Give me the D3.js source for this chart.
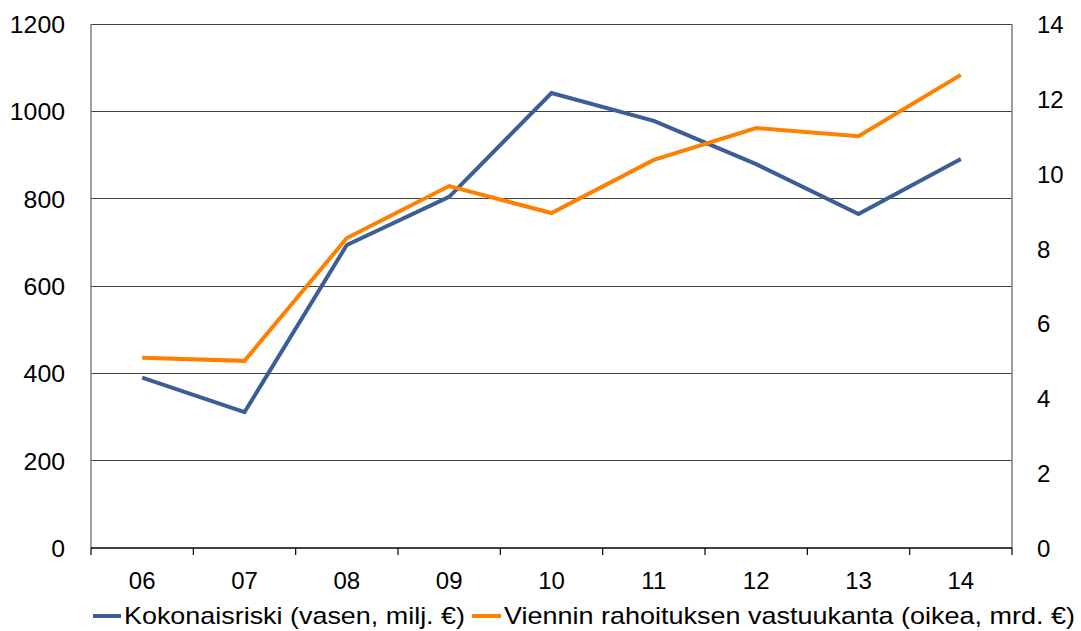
<!DOCTYPE html>
<html><head><meta charset="utf-8">
<script src="https://cdn.jsdelivr.net/npm/d3@7"></script>
<style>body{margin:0;background:#fff}svg{display:block;font-family:"Liberation Sans",Arial,sans-serif}</style>
</head><body><svg id="c" width="1081" height="631"></svg>
<script>
const categories = ["06","07","08","09","10","11","12","13","14"];
const riski = [390, 311, 694, 804, 1042, 978, 879, 765, 891];
const vastuukanta = [5.08, 5.0, 8.28, 9.67, 8.95, 10.37, 11.22, 11.0, 12.64];
const leftTicks = [0,200,400,600,800,1000,1200];
const rightTicks = [0,2,4,6,8,10,12,14];
const seriesNames = ["Kokonaisriski (vasen, milj. €)", "Viennin rahoituksen vastuukanta (oikea, mrd. €)"];
const colors = ["#3A5E95", "#FF8000"];

const svg = d3.select("#c");
const L = 91, R = 1012, T = 24, B = 548;
const FS = 24;
const x = d3.scaleBand().domain(categories).range([L, R]);
const yL = d3.scaleLinear().domain([0,1200]).range([B, T]);
const yR = d3.scaleLinear().domain([0,14]).range([B, T]);

// gridlines
svg.append("g").selectAll("line").data(leftTicks.filter(d=>d>0)).join("line")
  .attr("x1", L).attr("x2", R).attr("y1", d=>yL(d)).attr("y2", d=>yL(d))
  .attr("stroke", "#404040").attr("stroke-width", 1).attr("shape-rendering","crispEdges");
// left / right vertical axes
svg.append("line").attr("x1",L).attr("x2",L).attr("y1",T).attr("y2",B).attr("stroke","#808080").attr("stroke-width",1.5);
svg.append("line").attr("x1",R).attr("x2",R).attr("y1",T).attr("y2",B).attr("stroke","#808080").attr("stroke-width",1.5);

// left labels
svg.append("g").selectAll("text").data(leftTicks).join("text")
  .attr("x", 65).attr("y", d=>yL(d)+9).attr("text-anchor","end")
  .attr("font-size", FS).attr("fill","#000").attr("textLength", d=>String(d).length*13.8).attr("lengthAdjust","spacingAndGlyphs").text(d=>d);
// right labels
svg.append("g").selectAll("text").data(rightTicks).join("text")
  .attr("x", 1037).attr("y", d=>yR(d)+9).attr("text-anchor","start")
  .attr("font-size", FS).attr("fill","#000").text(d=>d);

// bottom axis
svg.append("line").attr("x1",L).attr("x2",R).attr("y1",B).attr("y2",B).attr("stroke","#000").attr("stroke-width",1.5);
const bounds = categories.map(c=>x(c)).concat([R]);
svg.append("g").selectAll("line").data(bounds).join("line")
  .attr("x1",d=>d).attr("x2",d=>d).attr("y1",B).attr("y2",B+7).attr("stroke","#000").attr("stroke-width",1.2);
svg.append("g").selectAll("text").data(categories).join("text")
  .attr("x", d=>x(d)+x.bandwidth()/2).attr("y", 589).attr("text-anchor","middle")
  .attr("font-size", FS).attr("fill","#000").text(d=>d);

// lines
const cx = d=>x(d)+x.bandwidth()/2;
const lineL = d3.line().x((d,i)=>cx(categories[i])).y(d=>yL(d));
const lineR = d3.line().x((d,i)=>cx(categories[i])).y(d=>yR(d));
svg.append("path").attr("d", lineL(riski)).attr("fill","none").attr("stroke",colors[0]).attr("stroke-width",4).attr("stroke-linejoin","miter");
svg.append("path").attr("d", lineR(vastuukanta)).attr("fill","none").attr("stroke",colors[1]).attr("stroke-width",4).attr("stroke-linejoin","miter");

// legend
const lg = svg.append("g");
lg.append("line").attr("x1",93).attr("x2",121).attr("y1",616).attr("y2",616).attr("stroke",colors[0]).attr("stroke-width",4);
lg.append("text").attr("x",124).attr("y",624).attr("font-size",FS).attr("fill","#000")
  .attr("textLength",341).attr("lengthAdjust","spacingAndGlyphs").text(seriesNames[0]);
lg.append("line").attr("x1",472).attr("x2",501).attr("y1",616).attr("y2",616).attr("stroke",colors[1]).attr("stroke-width",4);
lg.append("text").attr("x",504).attr("y",624).attr("font-size",FS).attr("fill","#000")
  .attr("textLength",571).attr("lengthAdjust","spacingAndGlyphs").text(seriesNames[1]);
</script></body></html>
